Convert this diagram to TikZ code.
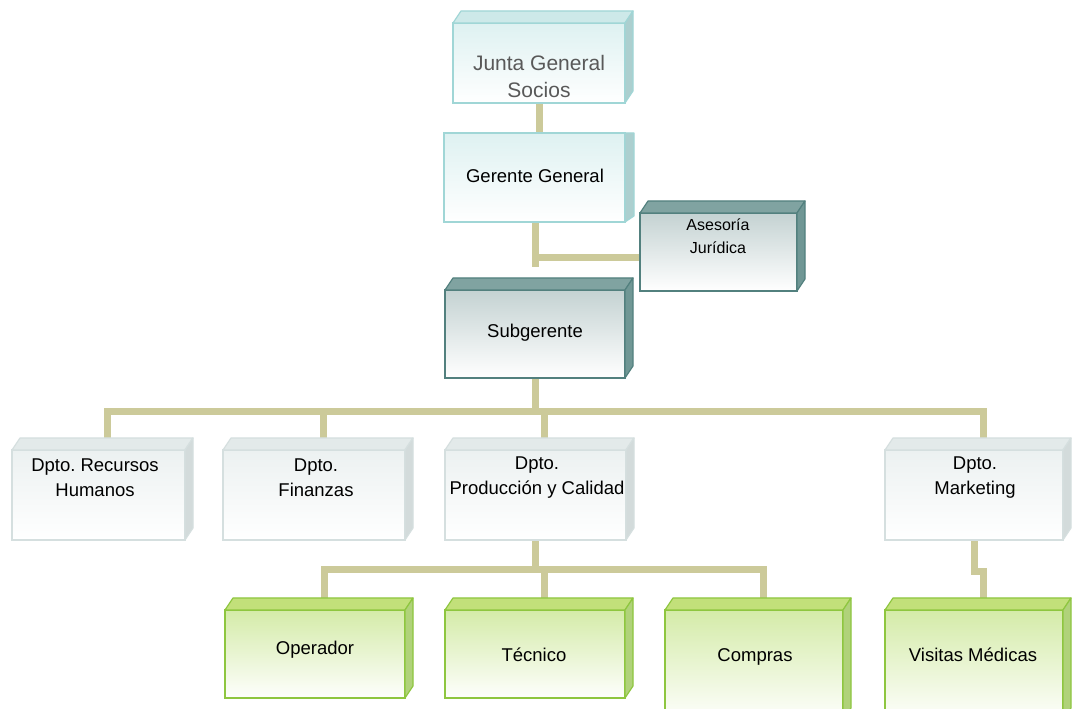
\documentclass[tikz,border=0pt]{standalone}
\usepackage{fontspec}
\setmainfont{Liberation Sans}
\usetikzlibrary{calc}
\pgfdeclarelayer{bg}
\pgfsetlayers{bg,main}
\frenchspacing
\definecolor{connc}{RGB}{204,202,154}
% cyan style
\definecolor{cyBorder}{RGB}{160,214,214}
\definecolor{cyTop}{RGB}{205,233,233}
\definecolor{cySide}{RGB}{172,207,207}
\definecolor{cyFront}{RGB}{222,241,241}
% dark teal style
\definecolor{dkBorder}{RGB}{82,128,126}
\definecolor{dkTop}{RGB}{128,163,161}
\definecolor{dkSide}{RGB}{112,151,149}
\definecolor{dkFront}{RGB}{196,210,210}
% gray style
\definecolor{grBorder}{RGB}{213,223,223}
\definecolor{grTop}{RGB}{227,234,234}
\definecolor{grSide}{RGB}{211,219,219}
\definecolor{grFront}{RGB}{236,241,241}
% green style
\definecolor{gnBorder}{RGB}{142,198,63}
\definecolor{gnTop}{RGB}{194,224,122}
\definecolor{gnSide}{RGB}{176,210,122}
\definecolor{gnFront}{RGB}{212,235,168}
\tikzset{
  x=1pt,y=1pt,
  conn/.style={draw=connc,line width=7pt},
  frontbox/.style={rectangle,inner sep=0pt,outer sep=0pt,line width=1.2pt},
  cybox/.style={frontbox,draw=cyBorder,top color=cyFront,bottom color=white},
  dkbox/.style={frontbox,draw=dkBorder,top color=dkFront,bottom color=white},
  grbox/.style={frontbox,draw=grBorder,top color=grFront,bottom color=white},
  gnbox/.style={frontbox,draw=gnBorder,top color=gnFront,bottom color=white!97!gnFront},
  lbl/.style={align=center,inner sep=0pt,text=black,font=\fontsize{18.5}{25}\selectfont},
}
\newcommand{\boxfaces}[4]{%
  \filldraw[fill=#2,draw=#4,line width=1.2pt,line join=round]
    (#1.north west) -- ++(8,12) -- ([shift={(8,12)}]#1.north east) -- (#1.north east) -- cycle;
  \filldraw[fill=#3,draw=#4,line width=1.2pt,line join=round]
    (#1.north east) -- ++(8,12) -- ([shift={(8,12)}]#1.south east) -- (#1.south east) -- cycle;
}
\begin{document}
\begin{tikzpicture}
\useasboundingbox (0,0) rectangle (1073,709);
\begin{pgfonlayer}{bg}
\fill[white] (0,0) rectangle (1073,709);
\end{pgfonlayer}

% ---- boxes ----
\node[cybox,minimum width=172,minimum height=80] (junta) at (539,646) {};
\boxfaces{junta}{cyTop}{cySide}{cyBorder}
\node[lbl,text=black!65,font=\fontsize{21}{27}\selectfont] (juntaT) at (539,632.5) {Junta General\\Socios};

\node[cybox,minimum width=181,minimum height=89] (gerente) at (534.5,531.5) {};
\filldraw[fill=cySide,draw=cyBorder,line width=1.2pt,line join=round]
  (gerente.north east) -- ([xshift=9pt]gerente.north east) -- ([shift={(9,6)}]gerente.south east) -- (gerente.south east) -- cycle;
\node[lbl] (gerenteT) at (535,533) {Gerente General};

\node[dkbox,minimum width=157,minimum height=78] (asesoria) at (718.5,457) {};
\boxfaces{asesoria}{dkTop}{dkSide}{dkBorder}
\node[lbl,font=\fontsize{16}{23}\selectfont] (asesoriaT) at (718,472.5) {Asesoría\\Jurídica};

\node[dkbox,minimum width=180,minimum height=88] (sub) at (535,375) {};
\boxfaces{sub}{dkTop}{dkSide}{dkBorder}
\node[lbl] (subT) at (535,376) {Subgerente};

\node[grbox,minimum width=173,minimum height=90] (rh) at (98.5,214) {};
\boxfaces{rh}{grTop}{grSide}{grBorder}
\node[lbl] (rhT) at (95,231.5) {Dpto. Recursos\\Humanos};

\node[grbox,minimum width=182,minimum height=90] (fin) at (314,214) {};
\boxfaces{fin}{grTop}{grSide}{grBorder}
\node[lbl] (finT) at (316,231.5) {Dpto.\\Finanzas};

\node[grbox,minimum width=181,minimum height=90] (prod) at (535.5,214) {};
\boxfaces{prod}{grTop}{grSide}{grBorder}
\node[lbl] (prodT) at (537,231.5) {Dpto.\\Producción y Calidad};

\node[grbox,minimum width=178,minimum height=90] (mkt) at (974,214) {};
\boxfaces{mkt}{grTop}{grSide}{grBorder}
\node[lbl] (mktT) at (975,231.5) {Dpto.\\Marketing};

\node[gnbox,minimum width=180,minimum height=88] (op) at (315,55) {};
\boxfaces{op}{gnTop}{gnSide}{gnBorder}
\node[lbl] (opT) at (315,59) {Operador};

\node[gnbox,minimum width=180,minimum height=88] (tec) at (535,55) {};
\boxfaces{tec}{gnTop}{gnSide}{gnBorder}
\node[lbl] (tecT) at (534,54) {Técnico};

\node[gnbox,minimum width=178,minimum height=110] (comp) at (754,44) {};
\boxfaces{comp}{gnTop}{gnSide}{gnBorder}
\node[lbl] (compT) at (755,52) {Compras};

\node[gnbox,minimum width=178,minimum height=110] (vis) at (974,44) {};
\boxfaces{vis}{gnTop}{gnSide}{gnBorder}
\node[lbl] (visT) at (973,54) {Visitas Médicas};

% ---- helper coordinates ----
\coordinate (gerEnd) at (535,442);
\coordinate (asY) at (0,451);
\coordinate (bus) at (0,297);
\coordinate (bus2) at (0,139);
\coordinate (bus3) at (0,137);
\coordinate (rhTop) at ([xshift=9pt]rh.north);
\coordinate (finTop) at ([xshift=9pt]fin.north);
\coordinate (prodTop) at ([xshift=9pt]prod.north);
\coordinate (mktTop) at ([xshift=9pt]mkt.north);
\coordinate (opTop) at ([xshift=9pt]op.north);
\coordinate (tecTop) at ([xshift=9pt]tec.north);
\coordinate (compTop) at ([xshift=9pt]comp.north);
\coordinate (visTop) at ([xshift=9pt]vis.north);

% ---- connectors ----
\begin{pgfonlayer}{bg}
\draw[conn] (junta.south) -- (junta.south |- gerente.north);
\draw[conn] (gerente.south -| gerEnd) -- (gerEnd);
\draw[conn] (gerEnd |- asY) -- (asesoria.west |- asY);
\draw[conn] (sub.south) -- (sub.south |- bus);
\draw[conn] (rhTop) |- (mktTop |- bus) -- (mktTop);
\draw[conn] (finTop) -- (finTop |- bus);
\draw[conn] (prodTop) -- (prodTop |- bus);
\draw[conn] (prod.south) -- (prod.south |- bus2);
\draw[conn] (opTop) |- (compTop |- bus2) -- (compTop);
\draw[conn] (tecTop) -- (tecTop |- bus2);
\draw[conn] (mkt.south) -- (mkt.south |- bus3) -| (visTop);
\end{pgfonlayer}
\end{tikzpicture}
\end{document}
